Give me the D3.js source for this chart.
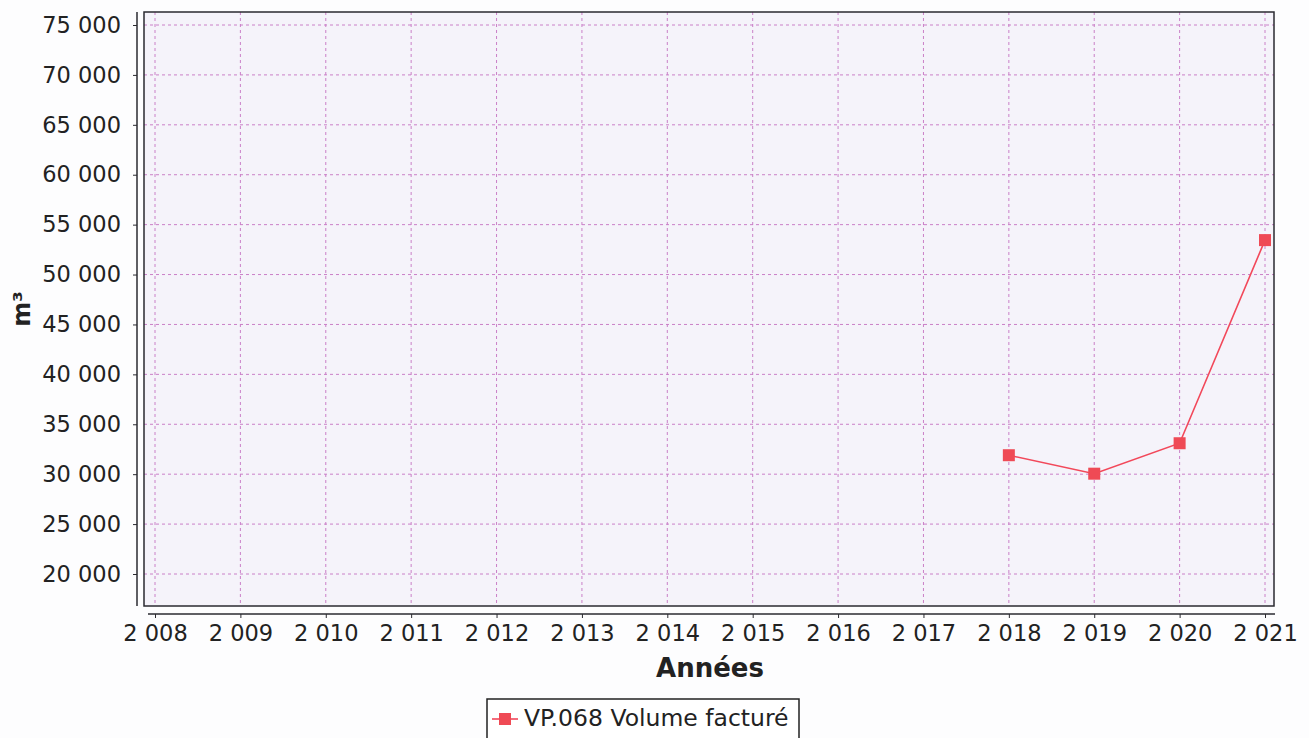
<!DOCTYPE html>
<html>
<head>
<meta charset="utf-8">
<script src="https://cdn.jsdelivr.net/npm/d3@7"></script>
<style>
  html, body { margin: 0; padding: 0; background: #fdfdfe; }
  svg { display: block; }
  svg text { font-family: "DejaVu Sans", sans-serif; }
</style>
</head>
<body>
<div id="chart"></div>
<script>
// values
const years = [2018, 2019, 2020, 2021]
const volumes = [31900, 30050, 33100, 53450]
const xTicks = d3.range(2008, 2022)
const yTicks = d3.range(20000, 75001, 5000)
const seriesName = 'VP.068 Volume facturé'

const width = 1309
const height = 738
const plot = { left: 144, right: 1274, top: 12, bottom: 606 }

const svg = d3.select('#chart').append('svg')
  .attr('width', width)
  .attr('height', height)

const fmt = d => d3.format(',')(d).replace(/,/g, ' ')

const x = d3.scaleLinear().domain([2008, 2021]).range([155, 1265])
const y = d3.scaleLinear().domain([20000, 75000]).range([574, 25])

// plot background
svg.append('rect')
  .attr('x', plot.left).attr('y', plot.top)
  .attr('width', plot.right - plot.left).attr('height', plot.bottom - plot.top)
  .attr('fill', '#f5f3fa')

// grid lines
const grid = svg.append('g').attr('stroke', '#c064bc').attr('stroke-width', 1)
  .attr('stroke-dasharray', '3,3').attr('opacity', 0.8)
grid.selectAll('.v').data(xTicks).join('line')
  .attr('x1', d => x(d)).attr('x2', d => x(d))
  .attr('y1', plot.top).attr('y2', plot.bottom)
grid.selectAll('.h').data(yTicks).join('line')
  .attr('x1', plot.left).attr('x2', plot.right)
  .attr('y1', d => y(d)).attr('y2', d => y(d))

// plot frame
svg.append('rect')
  .attr('x', plot.left).attr('y', plot.top)
  .attr('width', plot.right - plot.left).attr('height', plot.bottom - plot.top)
  .attr('fill', 'none').attr('stroke', '#2a2a30').attr('stroke-width', 1.5)

// y axis, offset to the left of the frame
const yAxis = svg.append('g')
  .attr('transform', 'translate(137,0)')
  .call(d3.axisLeft(y).tickValues(yTicks).tickFormat(fmt).tickSize(4).tickPadding(12))
yAxis.attr('font-family', null)
yAxis.select('.domain').attr('d', `M0,${plot.top}V${plot.bottom}`).attr('stroke', '#2a2a30').attr('stroke-width', 1.5)
yAxis.selectAll('.tick line').attr('stroke', '#2a2a30')
yAxis.selectAll('text').attr('font-size', 22.5).attr('fill', '#222')

// x axis, offset below the frame
const xAxis = svg.append('g')
  .attr('transform', 'translate(0,614)')
  .call(d3.axisBottom(x).tickValues(xTicks).tickFormat(fmt).tickSize(4).tickPadding(7))
xAxis.attr('font-family', null)
xAxis.select('.domain').attr('d', `M${plot.left + 4},0H${plot.right + 1}`).attr('stroke', '#2a2a30').attr('stroke-width', 1.5)
xAxis.selectAll('.tick line').attr('stroke', '#2a2a30')
xAxis.selectAll('text').attr('font-size', 22.5).attr('fill', '#222')

// axis titles
svg.append('text')
  .attr('x', 710).attr('y', 677)
  .attr('text-anchor', 'middle')
  .attr('font-size', 26).attr('font-weight', 'bold').attr('fill', '#222')
  .text('Années')
svg.append('text')
  .attr('transform', 'translate(30,309) rotate(-90)')
  .attr('text-anchor', 'middle')
  .attr('font-size', 24).attr('font-weight', 'bold').attr('fill', '#222')
  .text('m³')

// data line and markers
const points = years.map((yr, i) => ({ yr, v: volumes[i] }))
svg.append('path')
  .datum(points)
  .attr('fill', 'none').attr('stroke', '#f2485a').attr('stroke-width', 1.6)
  .attr('d', d3.line().x(d => x(d.yr)).y(d => y(d.v)))
svg.selectAll('.pt').data(points).join('rect')
  .attr('x', d => x(d.yr) - 6).attr('y', d => y(d.v) - 6)
  .attr('width', 12).attr('height', 12)
  .attr('fill', '#ef4a55')

// legend
const legend = svg.append('g').attr('transform', 'translate(487,699)')
legend.append('rect')
  .attr('width', 312).attr('height', 40)
  .attr('fill', '#fff').attr('stroke', '#222').attr('stroke-width', 1.5)
legend.append('line')
  .attr('x1', 5).attr('x2', 31).attr('y1', 20).attr('y2', 20)
  .attr('stroke', '#f2485a').attr('stroke-width', 1.6)
legend.append('rect')
  .attr('x', 12).attr('y', 14).attr('width', 12).attr('height', 12)
  .attr('fill', '#ef4a55')
legend.append('text')
  .attr('x', 37).attr('y', 27)
  .attr('font-size', 23.5).attr('fill', '#222')
  .text(seriesName)
</script>
</body>
</html>
